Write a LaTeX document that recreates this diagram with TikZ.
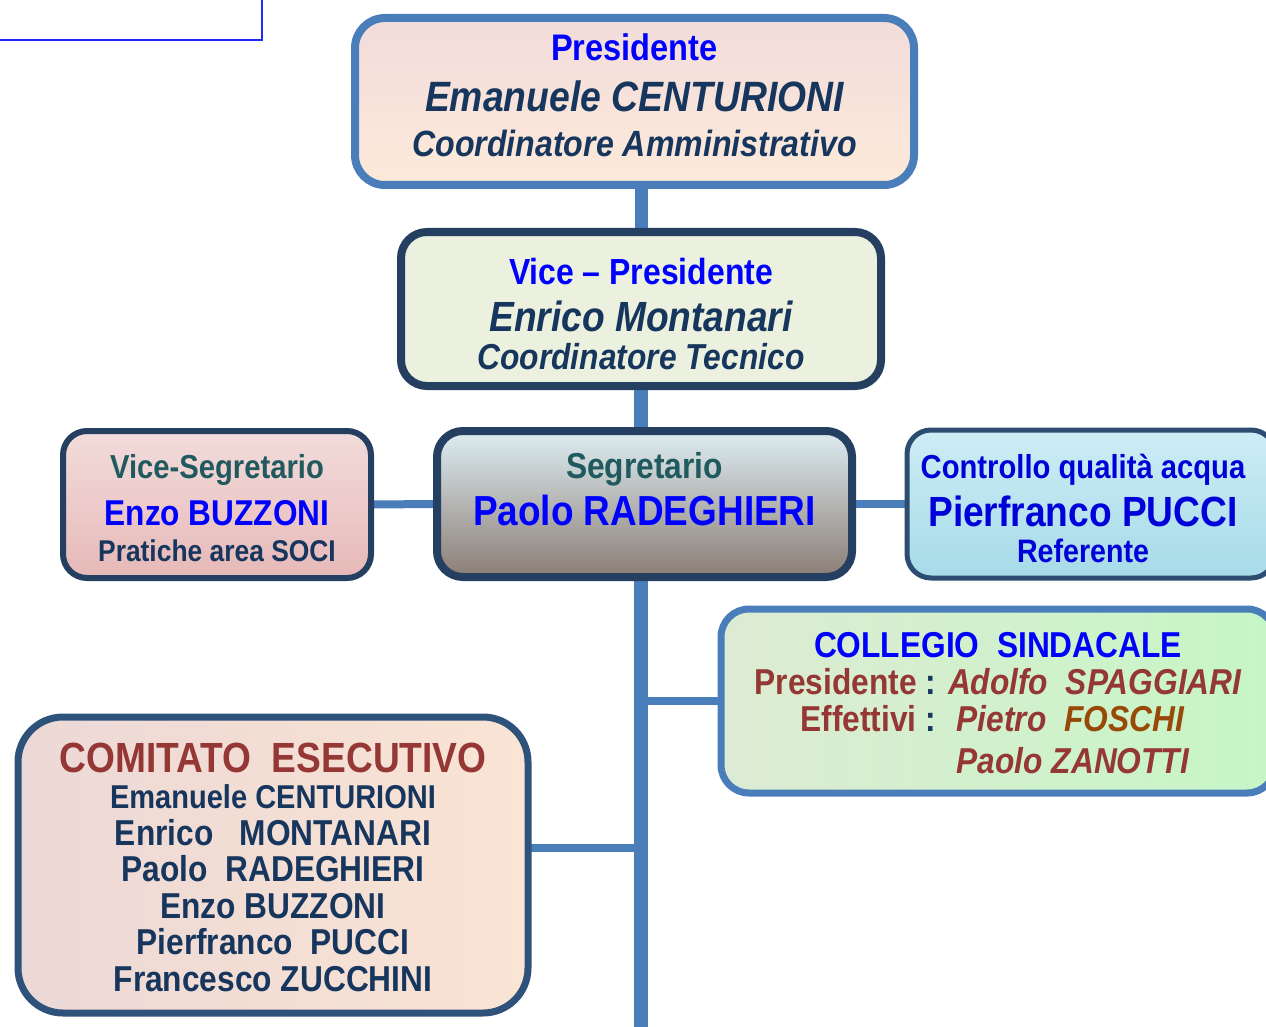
\documentclass[tikz,border=0pt]{standalone}
\usepackage{fontspec}
\setmainfont[FakeStretch=0.88]{Liberation Sans}
\usetikzlibrary{backgrounds}

\definecolor{linkblue}{HTML}{4A7EBB}
\definecolor{navyline}{HTML}{243F60}
\definecolor{titleblue}{HTML}{0000FF}
\definecolor{navytext}{HTML}{17365D}
\definecolor{tealtext}{HTML}{215A5E}
\definecolor{redtext}{HTML}{953735}
\definecolor{browntext}{HTML}{984807}
\definecolor{presA}{HTML}{F2DCDB}
\definecolor{presB}{HTML}{FDEADA}
\definecolor{viceA}{HTML}{EBF1DE}
\definecolor{viceB}{HTML}{D4E2B6}
\definecolor{segrA}{HTML}{DDEDF2}
\definecolor{segrB}{HTML}{F7E8DC}
\definecolor{segrC}{HTML}{8B7D75}
\definecolor{vsegrA}{HTML}{F2DCDB}
\definecolor{vsegrB}{HTML}{FBE8DD}
\definecolor{vsegrC}{HTML}{E6B9B8}
\definecolor{ctrlA}{HTML}{CDEDF5}
\definecolor{ctrlB}{HTML}{A6DBE8}
\definecolor{collA}{HTML}{DDEBD3}
\definecolor{collB}{HTML}{B0DBA8}
\definecolor{collC}{HTML}{C6F6C6}
\definecolor{comA}{HTML}{ECD8D6}
\definecolor{comB}{HTML}{D6BEAF}
\definecolor{comC}{HTML}{FAE4D4}

\newcommand{\fs}[1]{\fontsize{#1}{\the\baselineskip}\selectfont}

\begin{document}
\begin{tikzpicture}[x=1pt,y=-1pt,
  orgbox/.style={draw,align=center,inner sep=0pt,rounded corners=26pt},
  link/.style={draw=linkblue,line width=8pt},
  trunk/.style={draw=linkblue,line width=14pt}]
\useasboundingbox (0,0) rectangle (1266,1027);
\draw[blue!85!white,line width=1.2pt] (-10,-10) rectangle (262,40);

\node[orgbox,minimum width=559,minimum height=167,line width=8pt,draw=linkblue,
  rounded corners=30pt,top color=presA,bottom color=presB,text=navytext,
  font=\fontsize{36}{47}\selectfont\bfseries] (pres) at (634.5,101.5)
  {{\fs{37}\color{titleblue}Presidente}\\[4pt]
   {\fs{42.4}\itshape Emanuele CENTURIONI}\\[-2pt]
   {\fs{36.5}\itshape Coordinatore Amministrativo\rule[-12pt]{0pt}{12pt}}};

\node[orgbox,minimum width=480,minimum height=154,line width=8pt,draw=navyline,
  top color=viceA,middle color=viceB,bottom color=viceA,text=navytext,
  font=\fontsize{36}{38}\selectfont\bfseries] (vice) at (641,309)
  {{\fs{36.3}\color{titleblue}\rule{0pt}{36pt}Vice – Presidente}\\[9pt]
   {\fs{42.2}\itshape Enrico Montanari}\\
   {\fs{36.1}\itshape Coordinatore Tecnico}};

\node[orgbox,minimum width=415,minimum height=146,line width=8pt,draw=navyline,
  top color=segrA,middle color=segrB,bottom color=segrC,
  font=\fontsize{36}{47}\selectfont\bfseries] (segr) at (644.5,504)
  {{\color{tealtext}Segretario}\\
   {\fs{42}\color{titleblue}Paolo RADEGHIERI\rule[-31pt]{0pt}{31pt}}};

\node[orgbox,minimum width=308,minimum height=147,line width=6pt,draw=navyline,
  rounded corners=24pt,top color=vsegrA,middle color=vsegrB,bottom color=vsegrC,
  text=navytext,font=\fontsize{33}{36}\selectfont\bfseries] (vsegr) at (217,504.5)
  {{\fs{33.2}\color{tealtext}\rule{0pt}{32pt}Vice-Segretario}\\[11pt]
   {\fs{35.9}\color{titleblue}Enzo BUZZONI}\\
   {\fs{30}Pratiche area SOCI}};

\node[orgbox,minimum width=368,minimum height=148,line width=5pt,draw=navyline!80!linkblue,
  rounded corners=24pt,top color=ctrlA,bottom color=ctrlB,text=titleblue!85!black,
  font=\fontsize{33}{36}\selectfont\bfseries] (ctrl) at (1091,504)
  {{\fs{33.2}\rule{0pt}{33pt}Controllo qualità acqua\kern16pt}\\[10pt]
   {\fs{42.2}Pierfranco PUCCI\kern16pt}\\
   {\fs{32.5}Referente\kern16pt}};

\node[orgbox,minimum width=554,minimum height=184,line width=7pt,draw=linkblue,
  rounded corners=28pt,left color=collA,middle color=collB,right color=collC,
  text=redtext,font=\fontsize{36}{37}\selectfont\bfseries] (coll) at (998,701)
  {{\color{titleblue}\rule{0pt}{40pt}COLLEGIO\ \ SINDACALE}\\
   \begin{tabular}[t]{@{}r@{\hspace{12pt}}l@{}}
   Presidente\ \textcolor{navytext}{:} & \itshape Adolfo\ \ SPAGGIARI\\
   Effettivi\ \textcolor{navytext}{:} & \itshape\ Pietro\ \ \textcolor{browntext}{FOSCHI}\\[4pt]
   & \itshape\ Paolo ZANOTTI
   \end{tabular}};

\node[orgbox,minimum width=510,minimum height=296,line width=7pt,draw=navyline!70!linkblue,
  rounded corners=45pt,left color=comA,middle color=comB,right color=comC,
  text=navytext,font=\fontsize{36}{36.5}\selectfont\bfseries] (comit) at (273,865)
  {{\fs{42.2}\color{redtext}\rule{0pt}{34pt}COMITATO\ \ ESECUTIVO}\\
   {\fs{33}Emanuele CENTURIONI}\\
   Enrico\ \ \ MONTANARI\\
   Paolo\ \ RADEGHIERI\\
   Enzo BUZZONI\\
   Pierfranco\ \ PUCCI\\
   Francesco ZUCCHINI};

\coordinate (trunkend) at (641,1040);
\coordinate (cebranch) at (528,848);

\begin{scope}[on background layer]
\draw[trunk,line width=13pt] (vice.north |- pres.south) -- (vice.north);
\draw[trunk] (vice.south) -- (vice.south |- segr.north);
\draw[trunk] (vice.south |- segr.south) -- (trunkend);
\draw[link] (vsegr.east) -- (segr.west);
\draw[link] (segr.east) -- (ctrl.west);
\draw[link] (coll.west) -- (coll.west -| trunkend);
\draw[link] (cebranch) -- (cebranch -| trunkend);
\end{scope}
\end{tikzpicture}
\end{document}
